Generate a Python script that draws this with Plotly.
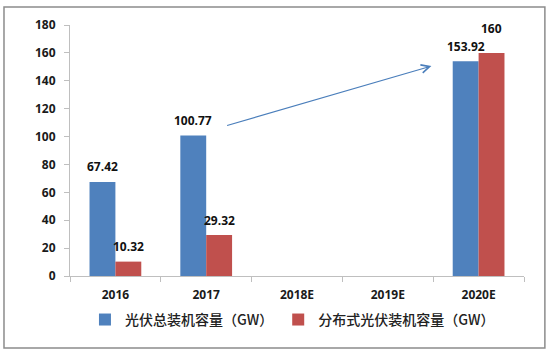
import plotly.graph_objects as go

categories = ["2016", "2017", "2018E", "2019E", "2020E"]
total_gw = [67.42, 100.77, None, None, 153.92]
distributed_gw = [10.32, 29.32, None, None, 160]
series_names = ["光伏总装机容量（GW）", "分布式光伏装机容量（GW）"]
y_ticks = [0, 20, 40, 60, 80, 100, 120, 140, 160, 180]

BLUE = "#4F81BD"
RED = "#C0504D"
TICK_FONT = dict(family="Open Sans, Noto Sans, sans-serif", size=12, color="#1a1a1a",
                 weight=700)

fig = go.Figure()
fig.add_trace(go.Bar(x=categories, y=total_gw, name=series_names[0], marker_color=BLUE,
                     marker_line_width=0))
fig.add_trace(go.Bar(x=categories, y=distributed_gw, name=series_names[1], marker_color=RED,
                     marker_line_width=0))

# value labels (x given as category index)
label_font = dict(family="Open Sans, Noto Sans, sans-serif", size=12, color="#111111")
extra_shift = {("r", 4): 9}
for vals, xs, key in ((total_gw, -13, "b"), (distributed_gw, 13, "r")):
    for i, v in enumerate(vals):
        if v is None:
            continue
        fig.add_annotation(x=i, y=v, text=f"<b>{v:g}</b>", showarrow=False,
                           xshift=xs, yshift=15 + extra_shift.get((key, i), 0),
                           font=label_font, xanchor="center", yanchor="middle")

# trend arrow (2017 -> 2020E)
fig.add_annotation(x=3.48, y=150.6, ax=1.214, ay=107.6, xref="x", yref="y",
                   axref="x", ayref="y", showarrow=True, arrowhead=5, arrowsize=1.5,
                   arrowwidth=1.1, arrowcolor="#4A7EBB", text="")

# chart border
fig.add_shape(type="rect", xref="paper", yref="paper",
              x0=-0.1454, x1=1.046, y0=-0.287, y1=1.0717,
              line=dict(color="#8c8c8c", width=1.5), fillcolor="rgba(0,0,0,0)", layer="below")

fig.update_layout(
    width=556, height=353,
    margin=dict(l=70, r=32, t=25, b=77),
    paper_bgcolor="white", plot_bgcolor="white",
    barmode="group", bargap=0.43, bargroupgap=0,
    showlegend=True,
    legend=dict(orientation="h", x=0.49, xanchor="center", y=-0.175, yanchor="middle",
                font=dict(family="Noto Sans CJK SC", size=14, color="#222222", weight=500),
                itemwidth=30, tracegroupgap=0),
    xaxis=dict(type="category", categoryorder="array", categoryarray=categories,
               range=[-0.5, len(categories) - 0.5], autorange=False,
               showline=True, linecolor="#bfbfbf", linewidth=1,
               ticks="outside", tickson="boundaries", ticklen=5, tickcolor="#bfbfbf",
               tickangle=0, ticklabelstandoff=8, tickfont=TICK_FONT,
               showgrid=False, zeroline=False),
    yaxis=dict(range=[0, 180], autorange=False, tickvals=y_ticks, showline=True,
               linecolor="#bfbfbf", linewidth=1, ticks="outside", ticklen=5,
               ticklabelstandoff=6,
               tickcolor="#bfbfbf", tickfont=TICK_FONT, showgrid=False, zeroline=False),
)

fig.write_html("out.html")
